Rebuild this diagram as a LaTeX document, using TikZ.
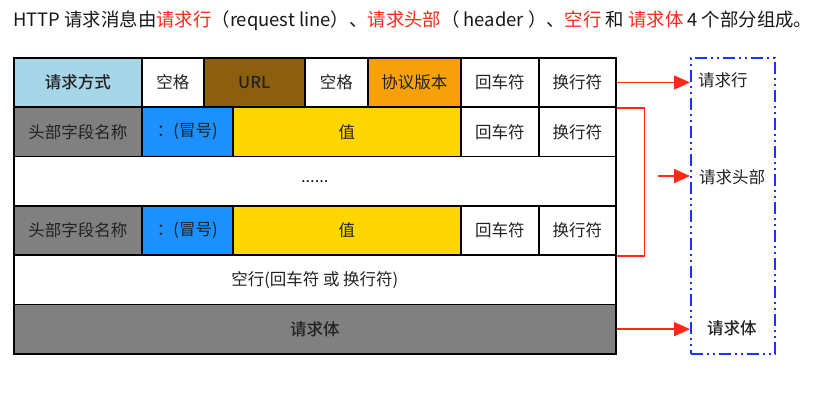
\documentclass[tikz,border=0pt]{standalone}
\usepackage{fontspec}
\setmainfont{Noto Sans CJK SC}
\newfontfamily\medfont{Noto Sans CJK SC Medium}
\usetikzlibrary{arrows.meta,calc}
\definecolor{lblue}{RGB}{166,214,232}
\definecolor{brownc}{RGB}{140,95,15}
\definecolor{orangec}{RGB}{247,160,10}
\definecolor{grayc}{RGB}{128,128,128}
\definecolor{bluec}{RGB}{28,144,255}
\definecolor{yellowc}{RGB}{255,214,0}
\definecolor{redc}{RGB}{255,40,25}
\definecolor{boxblue}{RGB}{30,50,255}
\definecolor{txt}{RGB}{34,34,34}
\begin{document}
\begin{tikzpicture}[x=1pt,y=-1pt,
 cell/.style={draw=black,line width=1.6pt,anchor=north west,minimum height=49.33pt,inner sep=0pt,font=\fontsize{16.5}{19}\selectfont,text=txt},
 redline/.style={draw=redc,line width=1.5pt},
 redarrow/.style={redline,-{Triangle[length=16pt,width=14pt]}},
 lbl/.style={font=\fontsize{16.5}{19}\selectfont,text=txt,inner sep=0pt}]
\useasboundingbox[fill=white] (0,0) rectangle (822,405);
% title
\node[anchor=west,inner sep=0pt,font=\fontsize{18.4}{22}\selectfont,text=black!90] (title) at (13,21)
 {HTTP 请求消息由\textcolor{redc}{请求行}（request line）、\textcolor{redc}{请求头部}（ header ）、\textcolor{redc}{空行} 和 \textcolor{redc}{请求体} 4 个部分组成。};
% row 1
\node[cell,fill=lblue,minimum width=128pt] (m) at (13,57) {\medfont 请求方式};
\node[cell,minimum width=62pt] (sp1) at (141,57) {空格};
\node[cell,fill=brownc,minimum width=101pt] (url) at (203,57) {\medfont URL};
\node[cell,minimum width=63pt] (sp2) at (304,57) {空格};
\node[cell,fill=orangec,minimum width=93pt] (ver) at (367,57) {协议版本};
\node[cell,minimum width=78pt] (cr1) at (460,57) {回车符};
\node[cell,minimum width=77pt] (lf1) at (538,57) {换行符};
% row 2
\node[cell,fill=grayc,minimum width=128pt] (h1) at (13,106.33) {头部字段名称};
\node[cell,fill=bluec,minimum width=91pt] (c1) at (141,106.33) {：(冒号)};
\node[cell,fill=yellowc,minimum width=228pt] (v1) at (232,106.33) {值};
\node[cell,minimum width=78pt] (cr2) at (460,106.33) {回车符};
\node[cell,minimum width=77pt] (lf2) at (538,106.33) {换行符};
% row 3
\node[cell,minimum width=602pt] (dots) at (13,155.67) {......};
% row 4
\node[cell,fill=grayc,minimum width=128pt] (h2) at (13,205) {头部字段名称};
\node[cell,fill=bluec,minimum width=91pt] (c2) at (141,205) {：(冒号)};
\node[cell,fill=yellowc,minimum width=228pt] (v2) at (232,205) {值};
\node[cell,minimum width=78pt] (cr3) at (460,205) {回车符};
\node[cell,minimum width=77pt] (lf3) at (538,205) {换行符};
% row 5
\node[cell,minimum width=602pt] (blank) at (13,254.33) {空行(回车符 或 换行符)};
% row 6
\node[cell,fill=grayc,minimum width=602pt] (body) at (13,303.67) {\medfont 请求体};
% blue box
\node[draw=boxblue,line width=1.8pt,dash pattern=on 12pt off 4pt on 2pt off 4pt on 2pt off 4pt,anchor=north west,minimum width=84pt,minimum height=296pt,inner sep=0pt] (box) at (690,57) {};
\node[lbl,anchor=west] (l1) at (698,80) {请求行};
\node[lbl,anchor=west] (l2) at (699,177) {请求头部};
\node[lbl,anchor=west] (l3) at (707,328) {\medfont 请求体};
% arrows
\draw[redarrow] (lf1.east) -- (lf1.east -| box.west);
\draw[redline] (lf1.south east) -- ++(28,0) |- (lf3.south east);
\coordinate (hs) at (658,176);
\draw[redarrow] (hs) -- (hs -| box.west);
\draw[redarrow] (body.east) -- (body.east -| box.west);
\end{tikzpicture}
\end{document}
